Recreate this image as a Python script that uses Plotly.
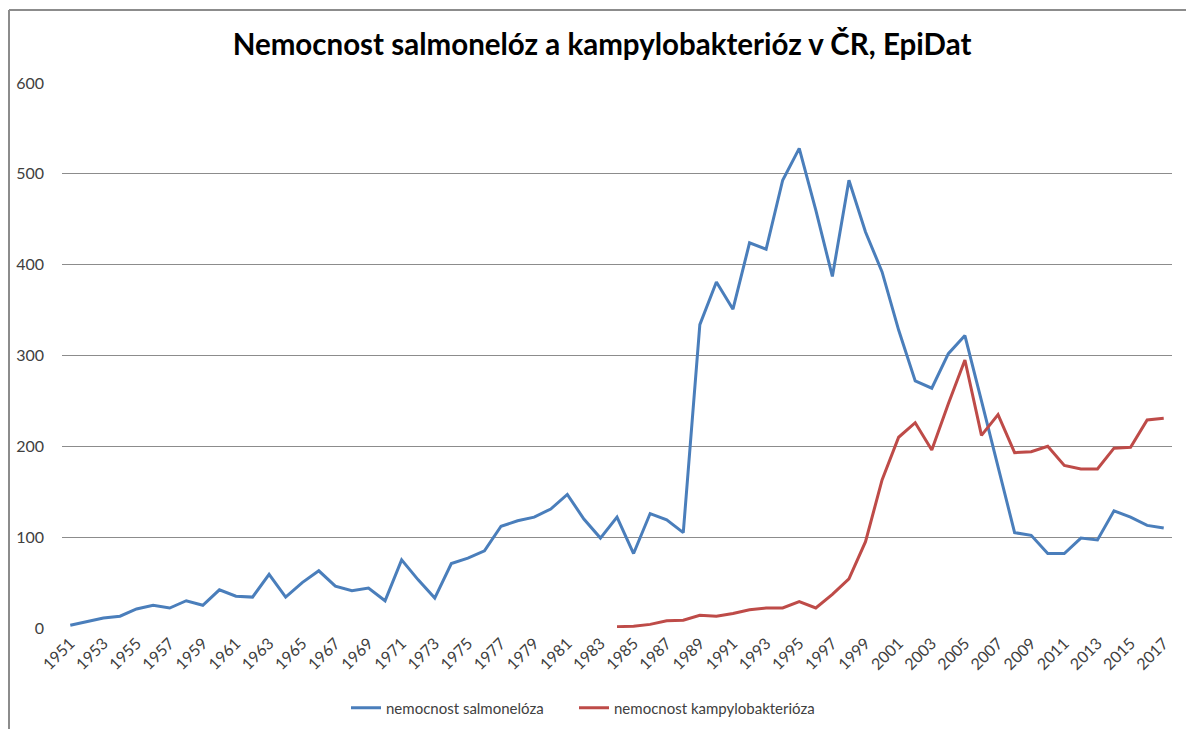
import plotly.graph_objects as go

years = list(range(1951, 2018))

salmonelloza = [
    3, 7, 11, 13, 21, 25, 22, 30, 25, 42,          # 1951-1960
    35, 34, 59, 34, 50, 63, 46, 41, 44, 30,        # 1961-1970
    75, 53, 33, 71, 77, 85, 112, 118, 122, 131,    # 1971-1980
    147, 120, 99, 122, 82, 126, 119, 105, 334, 381,  # 1981-1990
    351, 424, 417, 493, 528, 460, 387, 493, 436, 392,  # 1991-2000
    328, 272, 264, 302, 322, 250, 177, 105, 102, 82,   # 2001-2010
    82, 99, 97, 129, 122, 113, 110,                    # 2011-2017
]

kampylobakterioza = [None] * 33 + [
    1.5, 2, 4, 8, 8.5, 14,                          # 1984-1989
    13, 16, 20, 22, 22, 29, 22, 37, 54, 95,         # 1990-1999
    163, 210, 226, 196, 247, 295, 212, 235, 193, 194,  # 2000-2009
    200, 179, 175, 175, 198, 199, 229, 231,         # 2010-2017
]

tick_years = years[::2]
tick_labels = [str(y) for y in tick_years]
y_ticks = [0, 100, 200, 300, 400, 500, 600]

title_text = "Nemocnost salmonelóz a kampylobakterióz v ČR, EpiDat"
name_salm = "nemocnost salmonelóza"
name_kamp = "nemocnost kampylobakterióza"

FONT = "Lato"

fig = go.Figure()
fig.add_trace(go.Scatter(
    x=years, y=salmonelloza, mode="lines", name=name_salm,
    line=dict(color="#4A7EBB", width=3), legend="legend",
))
fig.add_trace(go.Scatter(
    x=years, y=kampylobakterioza, mode="lines", name=name_kamp,
    line=dict(color="#BE4B48", width=3), connectgaps=False, legend="legend2",
))

# The page body has an 8px margin, so the figure sits at (8, 8) on the page.
OFF = 8
FW, FH = 1194 - OFF, 729 - OFF
# plot area in page coords: x 62..1172, y 83..628
L, R, T, B = 62 - OFF, (1194 - OFF) - (1172 - OFF), 83 - OFF, FH - (628 - OFF)
W = FW - L - R
H = FH - T - B

def px_x(page_x):
    return (page_x - OFF - L) / W

def px_y(page_y):
    return (FH - B - (page_y - OFF)) / H

legend_style = dict(
    orientation="h", xanchor="left", yanchor="middle", y=px_y(708),
    font=dict(family=FONT, size=15, color="#404040"),
    itemwidth=30, tracegroupgap=0, bgcolor="rgba(0,0,0,0)",
)

fig.update_layout(
    width=FW, height=FH,
    margin=dict(l=L, r=R, t=T, b=B, autoexpand=False),
    paper_bgcolor="white", plot_bgcolor="white",
    font=dict(family=FONT, size=15, color="#404040"),
    title=dict(
        text=title_text, x=px_x(602), xanchor="center", xref="paper",
        y=1 - (45 - OFF) / FH, yanchor="middle", yref="container",
        font=dict(family=FONT, size=29.5, color="#000000", weight="bold"),
    ),
    showlegend=True,
    legend=dict(x=px_x(346), **legend_style),
    legend2=dict(x=px_x(574), **legend_style),
    xaxis=dict(
        range=[1950.5, 2017.5], tickmode="array", automargin=False,
        tickvals=tick_years, ticktext=tick_labels, tickangle=-45,
        showgrid=False, zeroline=False, showline=False, ticks="",
        ticklabelstandoff=2,
        tickfont=dict(family=FONT, size=16, color="#404040"),
    ),
    yaxis=dict(
        range=[0, 600], tickmode="array", tickvals=y_ticks, automargin=False,
        showgrid=True, gridcolor="#8C8C8C", gridwidth=1,
        zeroline=False, showline=False, ticks="",
        ticklabelstandoff=17,
        tickfont=dict(family=FONT, size=16, color="#404040"),
    ),
    shapes=[
        dict(type="line", xref="paper", yref="paper",
             x0=px_x(9), x1=px_x(9), y0=px_y(10), y1=px_y(729),
             line=dict(color="#8C8C8C", width=2)),
        dict(type="line", xref="paper", yref="paper",
             x0=px_x(9), x1=px_x(1194), y0=px_y(10), y1=px_y(10),
             line=dict(color="#8C8C8C", width=2)),
    ],
)

fig.write_html("out.html")
